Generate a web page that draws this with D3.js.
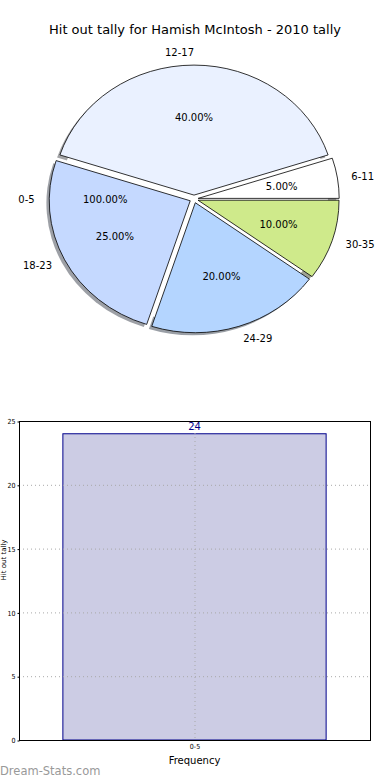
<!DOCTYPE html>
<html><head><meta charset="utf-8">
<script src="https://cdn.jsdelivr.net/npm/d3@7"></script>
<style>
html,body{margin:0;padding:0;background:#fff;}
svg{display:block;font-family:"DejaVu Sans",sans-serif;}
</style></head>
<body>
<svg id="c" width="390" height="780"></svg>
<script>
// ---- data ----
const titleText = "Hit out tally for Hamish McIntosh - 2010 tally";
const pieCategories = ["6-11", "12-17", "18-23", "24-29", "30-35"];
const pieShares = [5, 40, 25, 20, 10];
const pieColors = ["#ffffff", "#eaf1ff", "#c5d9ff", "#b4d5ff", "#cfea8b"];
const zeroCategory = "0-5";
const zeroShareLabel = "100.00%";
const barCategories = ["0-5"];
const barValues = [24];
const yTicks = [0, 5, 10, 15, 20, 25];
const xAxisTitle = "Frequency";
const yAxisTitle = "Hit out tally";
const watermark = "Dream-Stats.com";

const svg = d3.select("#c");

// ---- title ----
svg.append("text").attr("x", 195).attr("y", 34).attr("text-anchor", "middle")
  .attr("font-size", 13).attr("fill", "#000").text(titleText);

// ---- pie ----
const cx = 194, cy = 199, rx = 141, ry = 130, explode = 0.03;
const k = ry / rx;
const pie = d3.pie().sort(null).value(d => d)
  .startAngle(Math.PI / 2).endAngle(Math.PI / 2 - 2 * Math.PI);
const arcs = pie(pieShares);
const arc = d3.arc().innerRadius(0).outerRadius(rx);
const mathAngle = a => Math.PI / 2 - (a.startAngle + a.endAngle) / 2;

const g = svg.append("g").attr("transform", `translate(${cx},${cy}) scale(1,${k})`);
const defs = svg.append("defs");
defs.append("clipPath").attr("id", "rimclip").attr("clipPathUnits", "userSpaceOnUse")
  .append("path").attr("clip-rule", "evenodd")
  .attr("d", `M-400,-400H400V400H-400Z M${0.95 * rx},0 A${0.95 * rx},${0.95 * rx} 0 1,0 ${-0.95 * rx},0 A${0.95 * rx},${0.95 * rx} 0 1,0 ${0.95 * rx},0Z`);

const shadowG = g.append("g").attr("clip-path", "url(#rimclip)");
arcs.forEach((a, i) => {
  const t = mathAngle(a);
  const ox = explode * rx * Math.cos(t), oy = -explode * rx * Math.sin(t);
  const c = d3.rgb(pieColors[i]);
  shadowG.append("path").attr("d", arc(a))
    .attr("transform", `translate(${ox - 0.02 * rx},${oy + 0.02 * rx})`)
    .attr("fill", d3.rgb(c.r * 0.3, c.g * 0.3, c.b * 0.3)).attr("fill-opacity", 0.5);
});
arcs.forEach((a, i) => {
  const t = mathAngle(a);
  const ox = explode * rx * Math.cos(t), oy = -explode * rx * Math.sin(t);
  g.append("path").attr("d", arc(a))
    .attr("transform", `translate(${ox},${oy})`)
    .attr("fill", pieColors[i]).attr("stroke", "#000").attr("stroke-width", 0.8)
    .attr("vector-effect", "non-scaling-stroke").attr("stroke-linejoin", "round");
});

function labelAt(t, dist, text, anchorAuto) {
  const x = cx + (explode + dist) * rx * Math.cos(t);
  const y = cy - (explode + dist) * ry * Math.sin(t);
  let anchor = "middle";
  if (anchorAuto) anchor = (x > cx + 0.5) ? "start" : "end";
  svg.append("text").attr("x", x).attr("y", y).attr("dy", "0.36em")
    .attr("text-anchor", anchor).attr("font-size", 10).attr("fill", "#000").text(text);
}
arcs.forEach((a, i) => {
  const t = mathAngle(a);
  labelAt(t, 1.1, pieCategories[i], true);
  labelAt(t, 0.6, (pieShares[i]).toFixed(2) + "%", false);
});
labelAt(Math.PI, 1.1, zeroCategory, true);
labelAt(Math.PI, 0.6, zeroShareLabel, false);

// ---- bar chart ----
const L = 19, R = 370, T = 421, B = 740;
const x = d3.scaleBand().domain(barCategories).range([L, R]).padding(1 / 7);
const y = d3.scaleLinear().domain([0, 25]).range([B, T]);
const bg = svg.append("g");

bg.selectAll("rect.bar").data(barValues).enter().append("rect")
  .attr("x", (d, i) => x(barCategories[i])).attr("width", x.bandwidth())
  .attr("y", d => y(d)).attr("height", d => B - y(d))
  .attr("fill", "#ccccE4").attr("stroke", "#00008b").attr("stroke-width", 1);

// grid
bg.selectAll("line.gy").data(yTicks.filter(v => v > 0 && v < 25)).enter().append("line")
  .attr("x1", L).attr("x2", R).attr("y1", d => y(d) + 0.5).attr("y2", d => y(d) + 0.5)
  .attr("stroke", "#a8a8a8").attr("stroke-width", 1).attr("stroke-dasharray", "1,3");
bg.selectAll("line.gx").data(barCategories).enter().append("line")
  .attr("x1", d => x(d) + x.bandwidth() / 2 + 0.5).attr("x2", d => x(d) + x.bandwidth() / 2 + 0.5)
  .attr("y1", T).attr("y2", B)
  .attr("stroke", "#a8a8a8").attr("stroke-width", 1).attr("stroke-dasharray", "1,3");

// frame
bg.append("rect").attr("x", L + 0.5).attr("y", T + 0.5).attr("width", R - L).attr("height", B - T)
  .attr("fill", "none").attr("stroke", "#000").attr("stroke-width", 1);

// y axis ticks
const ya = bg.append("g").attr("transform", `translate(${L + 0.5},0.5)`)
  .call(d3.axisLeft(y).tickValues(yTicks).tickSize(2).tickPadding(2).tickFormat(d3.format("d")));
ya.select(".domain").remove();
ya.selectAll("text").attr("font-size", 7).attr("font-family", "DejaVu Sans Condensed, DejaVu Sans").attr("fill", "#000");
ya.selectAll("line").attr("stroke", "#000");

// x axis ticks
const xa = bg.append("g").attr("transform", `translate(0.5,${B + 0.5})`)
  .call(d3.axisBottom(x).tickSize(0).tickPadding(4));
xa.select(".domain").remove();
xa.selectAll("text").attr("font-size", 7).attr("font-family", "DejaVu Sans Condensed, DejaVu Sans").attr("fill", "#000");

// bar value labels
bg.selectAll("text.val").data(barValues).enter().append("text")
  .attr("x", (d, i) => x(barCategories[i]) + x.bandwidth() / 2).attr("y", d => y(d) - 4)
  .attr("text-anchor", "middle").attr("font-size", 10).attr("fill", "#00008b").text(d => d);

// axis titles
bg.append("text").attr("x", (L + R) / 2).attr("y", 764).attr("text-anchor", "middle")
  .attr("font-size", 10).attr("fill", "#000").text(xAxisTitle);
bg.append("text").attr("transform", "translate(6,560) rotate(-90)").attr("text-anchor", "middle")
  .attr("font-size", 7).attr("fill", "#000").text(yAxisTitle);

// watermark
svg.append("text").attr("x", 0).attr("y", 775).attr("font-size", 11.5)
  .attr("fill", "#999").text(watermark);
</script>
</body></html>
